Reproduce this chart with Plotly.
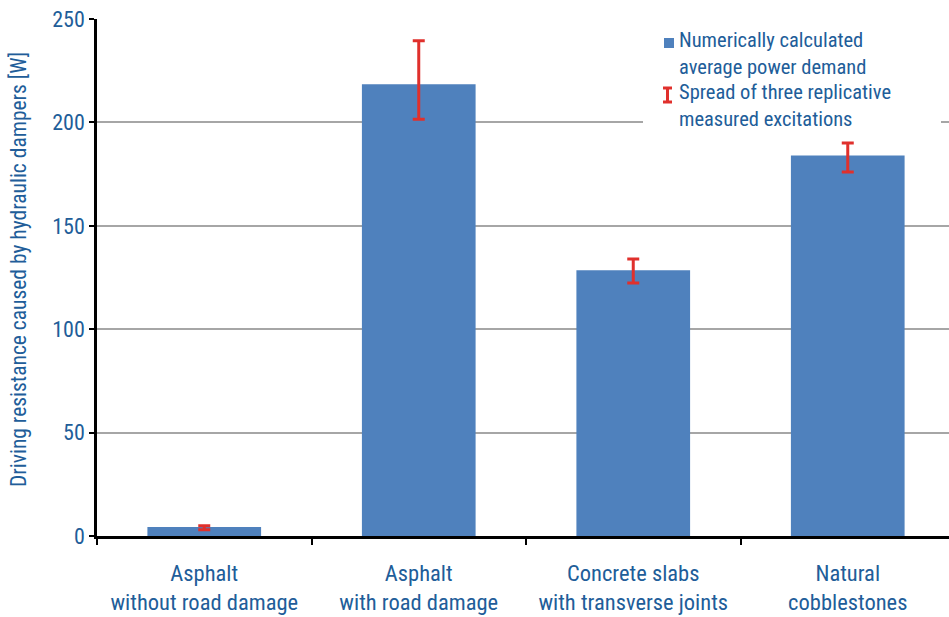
import plotly.graph_objects as go

# Road surfaces compared
categories = [
    "Asphalt<br>without road damage",
    "Asphalt<br>with road damage",
    "Concrete slabs<br>with transverse joints",
    "Natural<br>cobblestones",
]
# Numerically calculated average power demand [W]
power_demand = [4.3, 218.5, 128.5, 184.0]
# Spread of three replicate measured excitations (min / max) [W]
measured_min = [3.0, 201.5, 122.3, 176.0]
measured_max = [5.0, 239.5, 134.0, 190.0]

y_ticks = [0, 50, 100, 150, 200, 250]

FONT = "Liberation Sans Narrow, Arial Narrow, Roboto Condensed, Roboto, sans-serif"
TEXT_BLUE = "#215d99"
BAR_BLUE = "#4f81bd"
ERR_RED = "#e0302c"

err_plus = [hi - v for hi, v in zip(measured_max, power_demand)]
err_minus = [v - lo for lo, v in zip(measured_min, power_demand)]

fig = go.Figure()
fig.add_trace(go.Bar(
    x=categories,
    y=power_demand,
    marker=dict(color=BAR_BLUE, line=dict(width=0)),
    error_y=dict(
        type="data",
        symmetric=False,
        array=err_plus,
        arrayminus=err_minus,
        color=ERR_RED,
        thickness=3,
        width=6,
    ),
    showlegend=False,
))

W, H = 949, 617
L, R, T, B = 97, 0, 19, 81
pw, ph = W - L - R, H - T - B


def px(x):
    return (x - L) / pw


def py(y):
    return (H - B - y) / ph


# Legend panel drawn on top of the gridlines
shapes = [
    dict(type="rect", xref="paper", yref="paper",
         x0=px(643), x1=px(941), y0=py(135), y1=py(22),
         fillcolor="white", line=dict(width=0), layer="above"),
    dict(type="rect", xref="paper", yref="paper",
         x0=px(664), x1=px(674), y0=py(48), y1=py(38),
         fillcolor=BAR_BLUE, line=dict(width=0), layer="above"),
    # I-shaped error-bar glyph
    dict(type="line", xref="paper", yref="paper",
         x0=px(667.5), x1=px(667.5), y0=py(102), y1=py(88),
         line=dict(color=ERR_RED, width=3), layer="above"),
    dict(type="line", xref="paper", yref="paper",
         x0=px(663), x1=px(672), y0=py(88), y1=py(88),
         line=dict(color=ERR_RED, width=3), layer="above"),
    dict(type="line", xref="paper", yref="paper",
         x0=px(663), x1=px(672), y0=py(102), y1=py(102),
         line=dict(color=ERR_RED, width=3), layer="above"),
]

LEG_SIZE = 20.5
annotations = [
    dict(xref="paper", yref="paper", x=px(677), y=py(54),
         text="Numerically calculated<br>average power demand",
         showarrow=False, xanchor="left", yanchor="middle", align="left",
         font=dict(family=FONT, size=LEG_SIZE, color=TEXT_BLUE)),
    dict(xref="paper", yref="paper", x=px(677), y=py(106),
         text="Spread of three replicative<br>measured excitations",
         showarrow=False, xanchor="left", yanchor="middle", align="left",
         font=dict(family=FONT, size=LEG_SIZE, color=TEXT_BLUE)),
    # vertical axis title
    dict(xref="paper", yref="paper", x=px(18), y=py(270),
         text="Driving resistance caused by hydraulic dampers [W]",
         textangle=-90, showarrow=False,
         xanchor="center", yanchor="middle",
         font=dict(family=FONT, size=21.5, color=TEXT_BLUE)),
]

fig.update_layout(
    width=W, height=H,
    margin=dict(l=L, r=R, t=T, b=B, pad=0),
    paper_bgcolor="white",
    plot_bgcolor="white",
    bargap=0.47,
    font=dict(family=FONT, size=20, color=TEXT_BLUE),
    shapes=shapes,
    annotations=annotations,
    xaxis=dict(
        type="category",
        range=[-0.5, 3.472],
        showline=True, linecolor="black", linewidth=2.5,
        ticks="outside", tickson="boundaries", ticklen=6,
        tickcolor="black", tickwidth=2,
        showgrid=False,
        ticklabelstandoff=15,
        tickfont=dict(family=FONT, size=22.5, color=TEXT_BLUE),
    ),
    yaxis=dict(
        range=[0, 250],
        tickvals=y_ticks,
        showline=True, linecolor="black", linewidth=2.5,
        ticks="outside", ticklen=5, tickcolor="black", tickwidth=2,
        showgrid=True, gridcolor="#a6a6a6", gridwidth=1.5,
        zeroline=False,
        tickfont=dict(family=FONT, size=22, color=TEXT_BLUE),
    ),
)

fig.write_html("out.html")
